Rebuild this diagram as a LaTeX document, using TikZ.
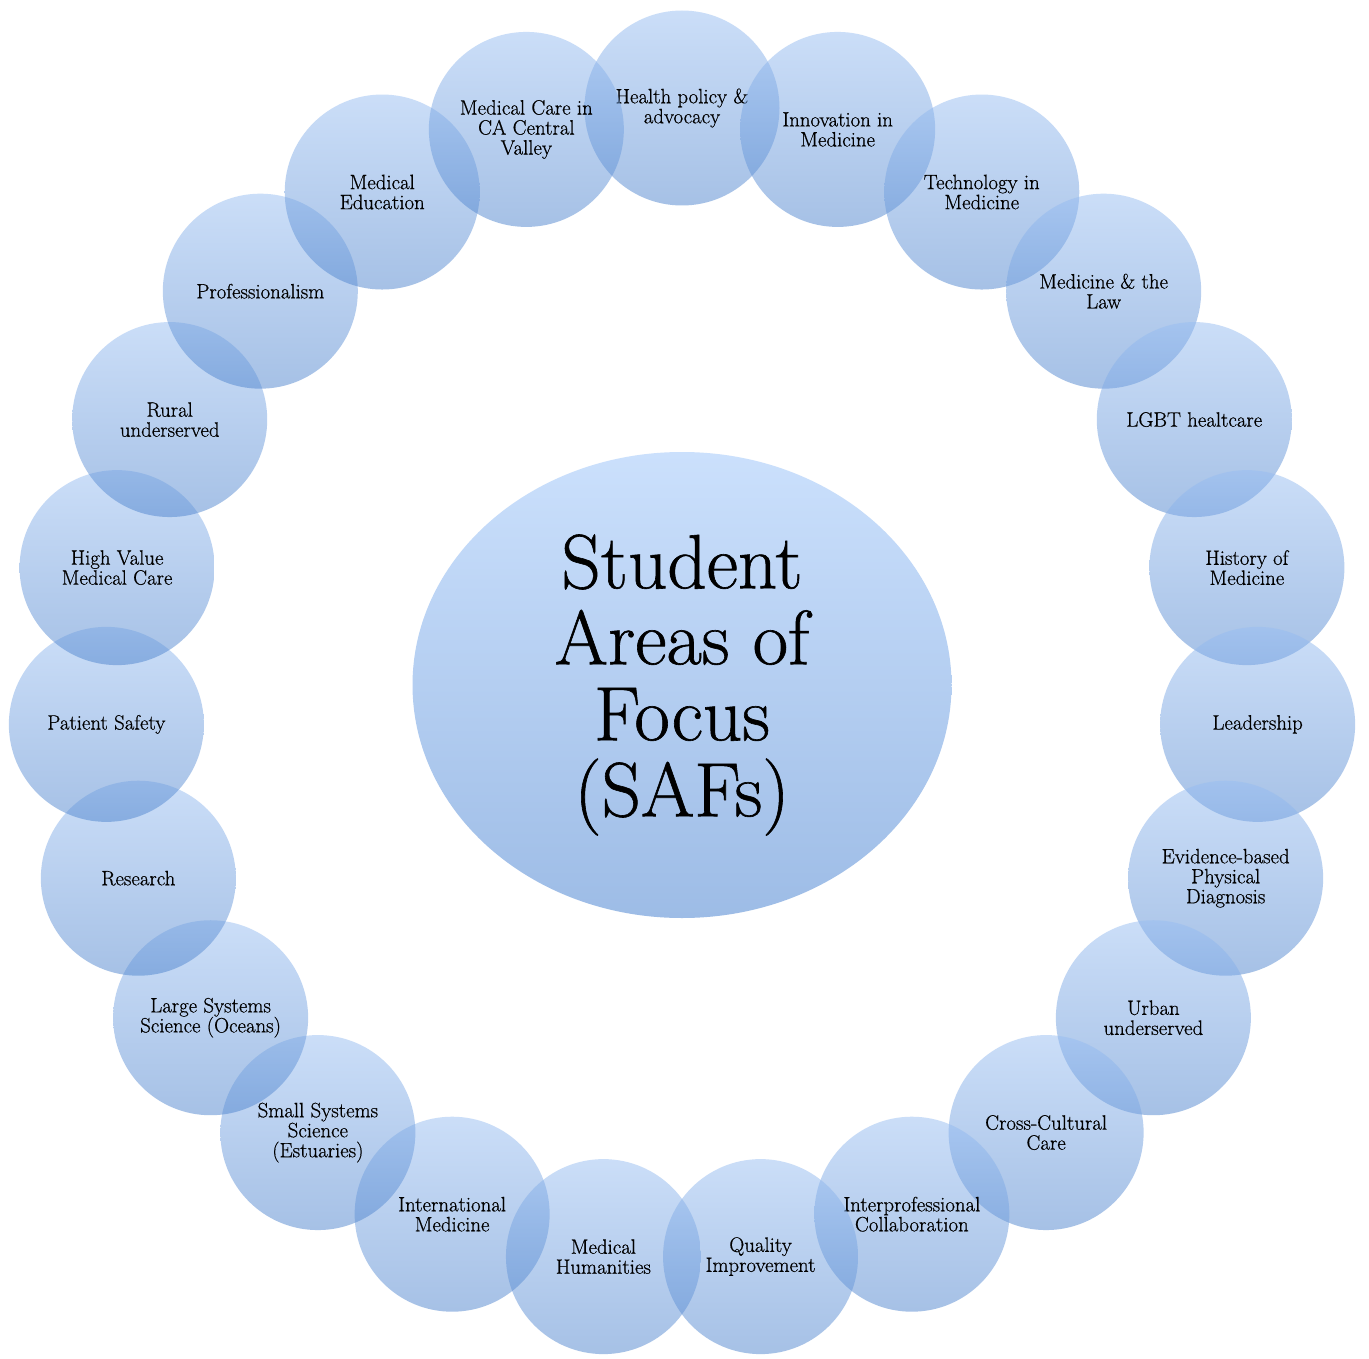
\documentclass[tikz,border=0pt]{standalone}
\usepackage{fontspec}
\newfontfamily\labelfont{Latin Modern Roman}[FakeBold=0.6]
\newfontfamily\hubfont{Latin Modern Roman}[FakeBold=0.8]
\usetikzlibrary{shapes.geometric}
\definecolor{ctop}{RGB}{152,190,242}
\definecolor{cbot}{RGB}{78,132,206}
\definecolor{etop}{RGB}{203,224,252}
\definecolor{ebot}{RGB}{157,188,230}
\begin{document}
\begin{tikzpicture}[x=1pt,y=-1pt,
  saf/.style={circle, minimum size=195pt, inner sep=0pt,
    top color=ctop, bottom color=cbot, fill opacity=0.5, text opacity=1,
    align=center, font=\labelfont\fontsize{20.8}{20}\selectfont},
  hub/.style={ellipse, minimum width=539pt, minimum height=466pt, inner sep=0pt,
    top color=etop, bottom color=ebot, align=center,
    font=\hubfont\fontsize{77}{76}\selectfont}]
\fill[white] (0,0) rectangle (1369,1359);
\useasboundingbox (0,0) rectangle (1369,1359);
\node[hub] (hub) at (682,685) {Student\\Areas of\\Focus\\(SAFs)};
\node[saf] (c0)  at ({682+577*sin(0*360/23)},{685-577*cos(0*360/23)}) {Health policy \&\\advocacy};
\node[saf] (c1)  at ({682+577*sin(1*360/23)},{685-577*cos(1*360/23)}) {Innovation in\\Medicine};
\node[saf] (c2)  at ({682+577*sin(2*360/23)},{685-577*cos(2*360/23)}) {Technology in\\Medicine};
\node[saf] (c3)  at ({682+577*sin(3*360/23)},{685-577*cos(3*360/23)}) {Medicine \& the\\Law};
\node[saf] (c4)  at ({682+577*sin(4*360/23)},{685-577*cos(4*360/23)}) {LGBT healtcare};
\node[saf] (c5)  at ({682+577*sin(5*360/23)},{685-577*cos(5*360/23)}) {History of\\Medicine};
\node[saf] (c6)  at ({682+577*sin(6*360/23)},{685-577*cos(6*360/23)}) {Leadership};
\node[saf] (c7)  at ({682+577*sin(7*360/23)},{685-577*cos(7*360/23)}) {Evidence-based\\Physical\\Diagnosis};
\node[saf] (c8)  at ({682+577*sin(8*360/23)},{685-577*cos(8*360/23)}) {Urban\\underserved};
\node[saf] (c9)  at ({682+577*sin(9*360/23)},{685-577*cos(9*360/23)}) {Cross-Cultural\\Care};
\node[saf] (c10) at ({682+577*sin(10*360/23)},{685-577*cos(10*360/23)}) {Interprofessional\\Collaboration};
\node[saf] (c11) at ({682+577*sin(11*360/23)},{685-577*cos(11*360/23)}) {Quality\\Improvement};
\node[saf] (c12) at ({682+577*sin(12*360/23)},{685-577*cos(12*360/23)}) {Medical\\Humanities};
\node[saf] (c13) at ({682+577*sin(13*360/23)},{685-577*cos(13*360/23)}) {International\\Medicine};
\node[saf] (c14) at ({682+577*sin(14*360/23)},{685-577*cos(14*360/23)}) {Small Systems\\Science\\(Estuaries)};
\node[saf] (c15) at ({682+577*sin(15*360/23)},{685-577*cos(15*360/23)}) {Large Systems\\Science (Oceans)};
\node[saf] (c16) at ({682+577*sin(16*360/23)},{685-577*cos(16*360/23)}) {Research};
\node[saf] (c17) at ({682+577*sin(17*360/23)},{685-577*cos(17*360/23)}) {Patient Safety};
\node[saf] (c18) at ({682+577*sin(18*360/23)},{685-577*cos(18*360/23)}) {High Value\\Medical Care};
\node[saf] (c19) at ({682+577*sin(19*360/23)},{685-577*cos(19*360/23)}) {Rural\\underserved};
\node[saf] (c20) at ({682+577*sin(20*360/23)},{685-577*cos(20*360/23)}) {Professionalism};
\node[saf] (c21) at ({682+577*sin(21*360/23)},{685-577*cos(21*360/23)}) {Medical\\Education};
\node[saf] (c22) at ({682+577*sin(22*360/23)},{685-577*cos(22*360/23)}) {Medical Care in\\CA Central\\Valley};
\end{tikzpicture}
\end{document}
